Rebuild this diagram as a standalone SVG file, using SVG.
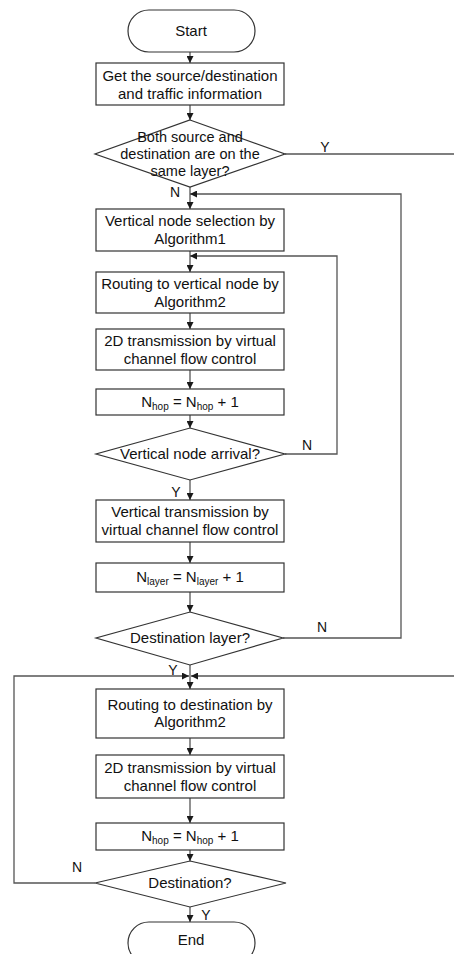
<svg xmlns="http://www.w3.org/2000/svg" width="454" height="954" viewBox="0 0 454 954">
<defs>
<marker id="ah" viewBox="0 0 10 10" refX="10" refY="5" markerWidth="8" markerHeight="7" markerUnits="userSpaceOnUse" orient="auto">
<path d="M0,0 L10,5 L0,10 Z" fill="#1a1a1a"/>
</marker>
<style>
.sh{fill:#fff;stroke:#333;stroke-width:1.2}
.t{font-family:"Liberation Sans",Arial,sans-serif;font-size:15px;fill:#111;text-anchor:middle}
.ts{font-size:14.5px}
.lb{font-family:"Liberation Sans",Arial,sans-serif;font-size:14px;fill:#111;text-anchor:middle}
.c{fill:none;stroke:#555;stroke-width:1.3}
.a{marker-end:url(#ah)}
</style>
</defs>
<rect width="454" height="954" fill="#fff"/>
<g id="connectors">
<path class="c a" d="M190,52 V63"/>
<path class="c a" d="M190,105 V120"/>
<path class="c a" d="M190,187 V209"/>
<path class="c" d="M285,154 H454"/>
<path class="c a" d="M283,638 H401 V194 H190"/>
<path class="c a" d="M190,251 V272"/>
<path class="c a" d="M285,454 H337 V256 H190"/>
<path class="c a" d="M190,313 V329"/>
<path class="c a" d="M190,370 V389"/>
<path class="c a" d="M190,415 V428"/>
<path class="c a" d="M190,480 V500"/>
<path class="c a" d="M190,542 V563"/>
<path class="c a" d="M190,592 V612"/>
<path class="c a" d="M190,665 V689"/>
<path class="c a" d="M95,883 H14 V676 H189"/>
<path class="c a" d="M454,676 H191"/>
<path class="c a" d="M190,738 V755"/>
<path class="c a" d="M190,798 V823"/>
<path class="c a" d="M190,850 V861"/>
<path class="c a" d="M190,907 V922"/>
<text class="lb" x="325" y="152">Y</text>
<text class="lb" x="175" y="197">N</text>
<text class="lb" x="307" y="450">N</text>
<text class="lb" x="176" y="497">Y</text>
<text class="lb" x="322" y="632">N</text>
<text class="lb" x="173" y="675">Y</text>
<text class="lb" x="77" y="872">N</text>
<text class="lb" x="206" y="920">Y</text>
</g>
<g id="start">
<rect class="sh" x="128" y="10" width="127" height="42" rx="21" ry="21"/>
<text class="t" x="191" y="36">Start</text>
</g>
<g id="get-info">
<rect class="sh" x="96" y="63" width="188" height="42"/>
<text class="t" x="190" y="81">Get the source/destination</text>
<text class="t" x="190" y="99">and traffic information</text>
</g>
<g id="same-layer">
<polygon class="sh" points="190,120 285,154 190,187 95,154"/>
<text class="t ts" x="190" y="142">Both source and</text>
<text class="t ts" x="190" y="159">destination are on the</text>
<text class="t ts" x="190" y="176">same layer?</text>
</g>
<g id="vertical-selection">
<rect class="sh" x="96" y="209" width="188" height="42"/>
<text class="t" x="190" y="226">Vertical node selection by</text>
<text class="t" x="190" y="244">Algorithm1</text>
</g>
<g id="routing-vertical">
<rect class="sh" x="96" y="272" width="188" height="41"/>
<text class="t" x="190" y="289">Routing to vertical node by</text>
<text class="t" x="190" y="307">Algorithm2</text>
</g>
<g id="transmission-2d-a">
<rect class="sh" x="96" y="329" width="188" height="41"/>
<text class="t" x="190" y="346">2D transmission by virtual</text>
<text class="t" x="190" y="364">channel flow control</text>
</g>
<g id="nhop-a">
<rect class="sh" x="96" y="389" width="188" height="26"/>
<text class="t" x="190" y="407">N<tspan font-size="10" dy="3">hop</tspan><tspan dy="-3"> = N</tspan><tspan font-size="10" dy="3">hop</tspan><tspan dy="-3"> + 1</tspan></text>
</g>
<g id="vertical-arrival">
<polygon class="sh" points="190,428 285,454 190,480 96,454"/>
<text class="t" x="190" y="459">Vertical node arrival?</text>
</g>
<g id="vertical-transmission">
<rect class="sh" x="96" y="500" width="188" height="42"/>
<text class="t" x="190" y="517">Vertical transmission by</text>
<text class="t" x="190" y="535">virtual channel flow control</text>
</g>
<g id="nlayer">
<rect class="sh" x="96" y="563" width="188" height="29"/>
<text class="t" x="190" y="582">N<tspan font-size="10" dy="3">layer</tspan><tspan dy="-3"> = N</tspan><tspan font-size="10" dy="3">layer</tspan><tspan dy="-3"> + 1</tspan></text>
</g>
<g id="destination-layer">
<polygon class="sh" points="190,612 283,638 190,665 96,638"/>
<text class="t" x="190" y="643">Destination layer?</text>
</g>
<g id="routing-destination">
<rect class="sh" x="96" y="689" width="188" height="49"/>
<text class="t" x="190" y="710">Routing to destination by</text>
<text class="t" x="190" y="727">Algorithm2</text>
</g>
<g id="transmission-2d-b">
<rect class="sh" x="96" y="755" width="188" height="43"/>
<text class="t" x="190" y="773">2D transmission by virtual</text>
<text class="t" x="190" y="791">channel flow control</text>
</g>
<g id="nhop-b">
<rect class="sh" x="96" y="823" width="188" height="27"/>
<text class="t" x="190" y="841">N<tspan font-size="10" dy="3">hop</tspan><tspan dy="-3"> = N</tspan><tspan font-size="10" dy="3">hop</tspan><tspan dy="-3"> + 1</tspan></text>
</g>
<g id="destination">
<polygon class="sh" points="190,861 286,883 190,907 95,883"/>
<text class="t" x="190" y="888">Destination?</text>
</g>
<g id="end">
<rect class="sh" x="128" y="922" width="127" height="42" rx="21" ry="21"/>
<text class="t" x="191" y="945">End</text>
</g>
</svg>
